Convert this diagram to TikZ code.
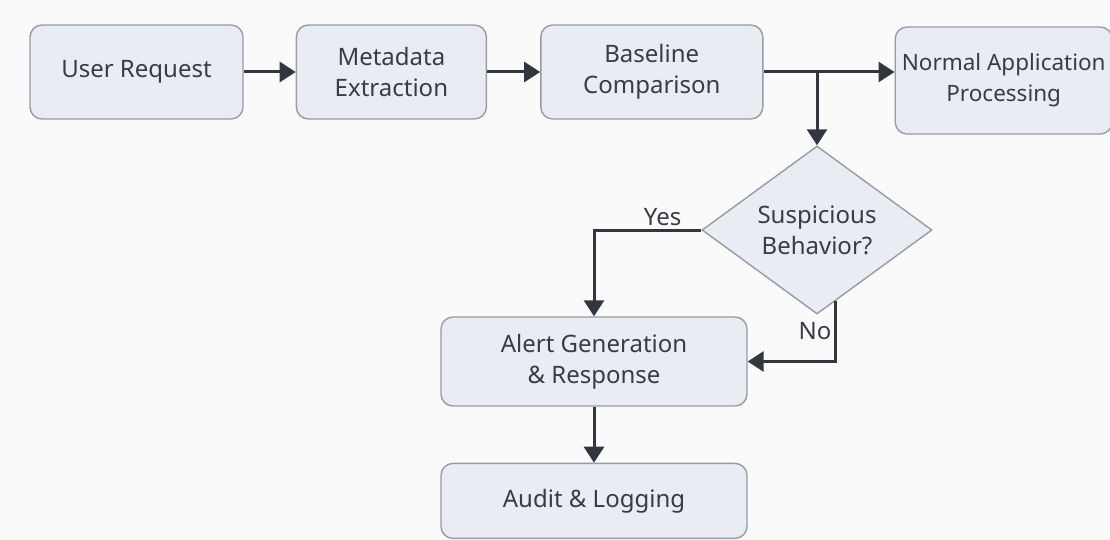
\documentclass[tikz,border=0pt]{standalone}
\usepackage{fontspec}
\setmainfont{Noto Sans}
\usetikzlibrary{arrows.meta,positioning,shapes.geometric}
\definecolor{boxfill}{RGB}{233,236,243}
\definecolor{boxline}{RGB}{150,155,165}
\definecolor{ink}{RGB}{56,60,68}
\definecolor{wire}{RGB}{50,54,62}
\definecolor{paper}{RGB}{250,250,250}

\begin{document}
\begin{tikzpicture}[x=1pt,y=-1pt,font=\fontsize{24}{31}\selectfont]

\tikzstyle{bx} = [rectangle, rounded corners=12pt, draw=boxline, line width=1.4pt, fill=boxfill, text=ink, align=center, minimum height=94pt, inner sep=0pt]
\tikzstyle{dm} = [diamond, draw=boxline, line width=1.4pt, fill=boxfill, text=ink, align=center, minimum width=230pt, minimum height=146pt, inner sep=0pt]
\tikzstyle{ar} = [draw=wire, line width=3pt, -{Triangle[length=16pt,width=20pt]}]
\tikzstyle{lb} = [text=ink, inner sep=3pt]

\fill[paper] (0,0) rectangle (1110,540);
\useasboundingbox (0,0) rectangle (1110,540);

\node (ur) [bx, minimum width=213pt] at (136.5,72) {User Request};
\node (me) [bx, minimum width=190pt, right=52pt of ur] {Metadata\\Extraction};
\node (bc) [bx, minimum width=222pt, right=53pt of me] {Baseline\\Comparison};
% the widest label, set a touch smaller so it stays inside
\node (nap) [bx, minimum width=217pt, minimum height=107pt, right=131pt of bc, yshift=-8.5pt, font=\fontsize{22.5}{31}\selectfont] {Normal Application\\Processing};
\node (dec) [dm] at (817,230) {Suspicious\\Behavior?};
\node (alert) [bx, minimum width=306pt, minimum height=89pt] at (594,361.5) {Alert Generation\\\& Response};
\node (audit) [bx, minimum width=306pt, minimum height=75pt, below=56pt of alert] {Audit \& Logging};
\coordinate (split) at (bc.east -| dec.north);

\draw [ar] (ur) -- (me);
\draw [ar] (me) -- (bc);
\draw [ar] (bc.east) -- (bc.east -| nap.west);
\draw [ar] (split) -- (dec.north);
\draw [ar] (dec.west) -| (alert.north) node [lb, pos=0.18, above] {Yes};
\draw [ar] (dec.-75) |- (alert.east) node [lb, pos=0.25, left] {No};
\draw [ar] (alert) -- (audit);
\end{tikzpicture}
\end{document}
